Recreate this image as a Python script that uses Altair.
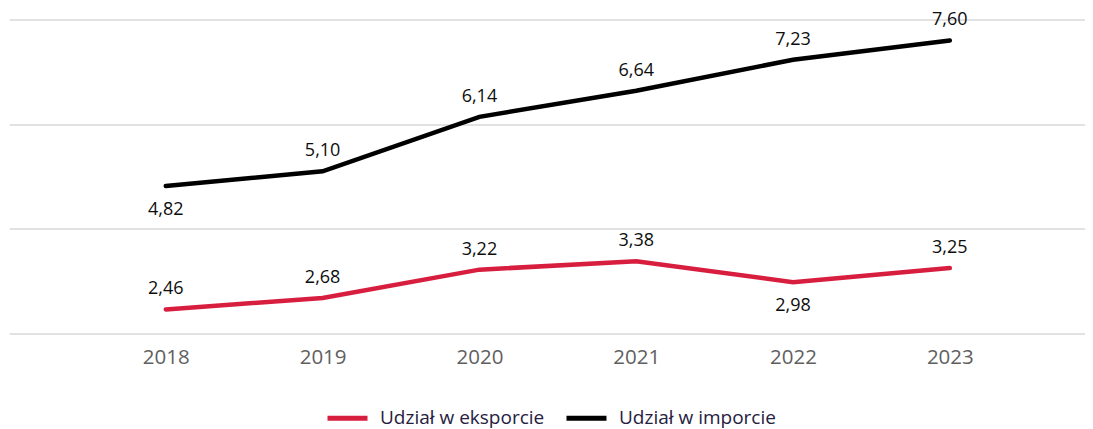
import altair as alt
import pandas as pd

years = [2018, 2019, 2020, 2021, 2022, 2023]
series_names = ["Udział w eksporcie", "Udział w imporcie"]
export_vals = [2.46, 2.68, 3.22, 3.38, 2.98, 3.25]
import_vals = [4.82, 5.10, 6.14, 6.64, 7.23, 7.60]
export_place = ["above", "above", "above", "above", "below", "above"]
import_place = ["below", "above", "above", "above", "above", "above"]
colors = ["#d81e3f", "#000000"]

rows = []
for name, vals, places in [(series_names[0], export_vals, export_place),
                           (series_names[1], import_vals, import_place)]:
    for y, v, p in zip(years, vals, places):
        rows.append({"year": y, "value": v, "series": name, "place": p,
                     "label": f"{v:.2f}".replace(".", ",")})
df = pd.DataFrame(rows)

FONT = "Open Sans"

x = alt.X("year:Q",
          scale=alt.Scale(domain=[2017, 2023.862], nice=False, zero=False),
          axis=alt.Axis(values=years, format="d", title=None, domain=False, ticks=False,
                        grid=False, labelFont=FONT, labelFontSize=20.5, labelColor="#5f5f5f",
                        labelPadding=14))
y = alt.Y("value:Q",
          scale=alt.Scale(domain=[2, 8], nice=False, zero=False),
          axis=alt.Axis(values=[2, 4, 6, 8], title=None, labels=False, domain=False,
                        ticks=False, grid=True, gridColor="#d9d9d9", gridWidth=1.6))
color = alt.Color("series:N",
                  scale=alt.Scale(domain=series_names, range=colors),
                  legend=alt.Legend(title=None, orient="none", direction="horizontal",
                                    legendX=316, legendY=376,
                                    symbolType="stroke", symbolStrokeWidth=5, symbolSize=1600,
                                    labelFont=FONT, labelFontSize=19, labelColor="#262040",
                                    labelLimit=400, columnPadding=11, labelOffset=10))

lines = alt.Chart(df).mark_line(strokeWidth=4.5, strokeCap="round").encode(x=x, y=y, color=color)

above = alt.Chart(df).transform_filter(alt.datum.place == "above").mark_text(
    font=FONT, fontSize=18, color="#0d0d0d", dy=-20).encode(x=x, y=y, text="label:N")
below = alt.Chart(df).transform_filter(alt.datum.place == "below").mark_text(
    font=FONT, fontSize=18, color="#0d0d0d", dy=24).encode(x=x, y=y, text="label:N")

chart = alt.layer(lines, above, below).properties(
    width=1076, height=314,
    autosize=alt.AutoSizeParams(type="none"),
    padding={"left": 1, "top": 11.5, "right": 0, "bottom": 95}
).configure_view(stroke=None)

chart.save("out.html", embed_options={"renderer": "svg", "actions": False})
